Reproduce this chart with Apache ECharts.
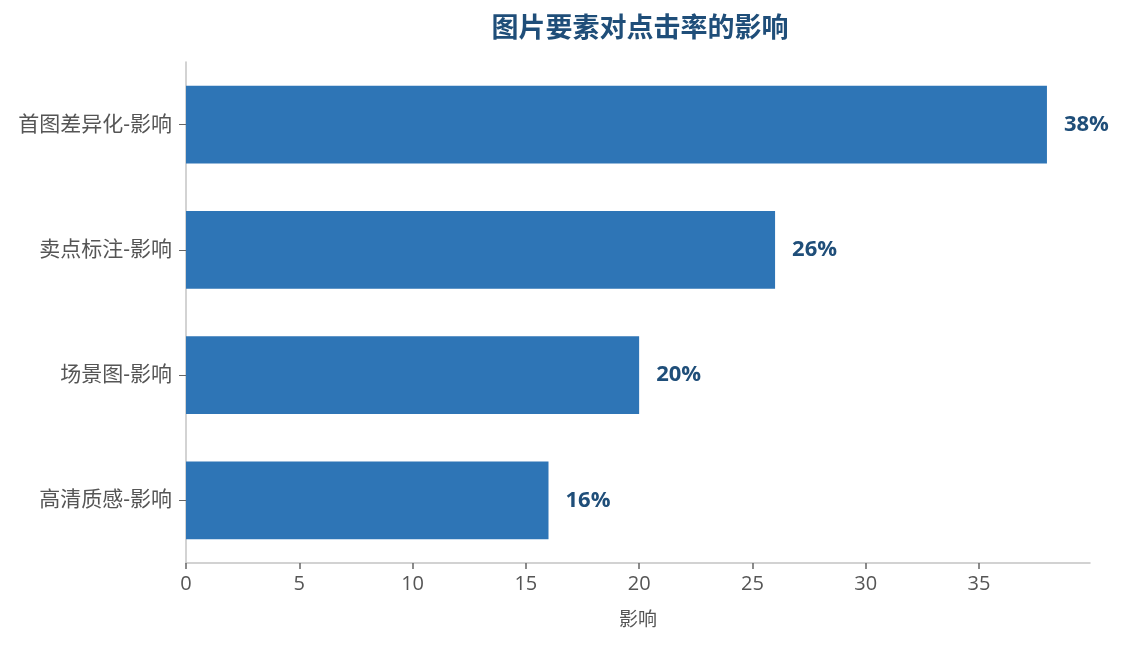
<!DOCTYPE html>
<html><head><meta charset="utf-8">
<script src="https://cdn.jsdelivr.net/npm/echarts@6/dist/echarts.min.js"></script>
<style>html,body{margin:0;padding:0;background:#fff}#c{width:1124px;height:645px}</style>
</head><body><div id="c"></div>
<script>
const categories = ['首图差异化-影响', '卖点标注-影响', '场景图-影响', '高清质感-影响'];
const values = [38, 26, 20, 16];
const titleText = '图片要素对点击率的影响';
const xName = '影响';
const FONT = "'Open Sans', 'Noto Sans CJK SC', sans-serif";
const chart = echarts.init(document.getElementById('c'));
chart.setOption({
  backgroundColor: '#fff',
  animation: false,
  title: { text: titleText, left: 635, top: 11, textAlign: 'center',
    textStyle: { fontSize: 27, fontWeight: 'bold', color: '#1f4e79', fontFamily: FONT } },
  grid: { left: 186, right: 34, top: 62, bottom: 82, containLabel: false },
  xAxis: { type: 'value', min: 0, max: 39.9, interval: 5, name: xName, nameLocation: 'middle', nameGap: 48,
    nameTextStyle: { fontSize: 19, color: '#555', fontFamily: FONT },
    axisLine: { show: true, lineStyle: { color: '#c4c4c4', width: 1.5 } },
    axisTick: { show: true, lineStyle: { color: '#666', width: 1.5 }, length: 6 },
    axisLabel: { fontSize: 20, color: '#555', fontFamily: FONT, margin: 11, showMaxLabel: false },
    splitLine: { show: false } },
  yAxis: { type: 'category', data: categories.slice().reverse(), inverse: false,
    axisLine: { show: true, lineStyle: { color: '#c4c4c4', width: 1.5 } },
    axisTick: { show: true, alignWithLabel: true, lineStyle: { color: '#666' }, length: 7 },
    axisLabel: { fontSize: 21, color: '#555', fontFamily: FONT, margin: 14 } },
  series: [{ type: 'bar', data: values.slice().reverse(), barWidth: '62%',
    itemStyle: { color: '#2e75b6' },
    label: { show: true, position: 'right', distance: 17, formatter: p => p.value + '%',
      fontSize: 22, fontWeight: 'bold', color: '#1f4e79', fontFamily: FONT } }]
});
</script></body></html>
